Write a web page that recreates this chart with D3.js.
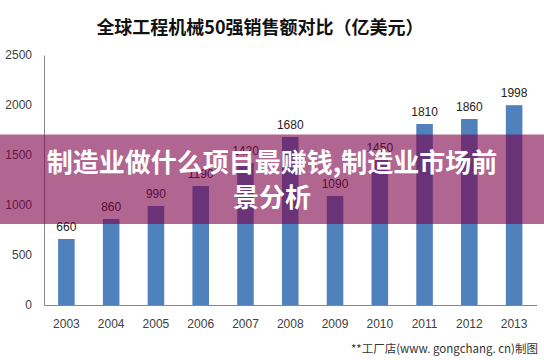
<!DOCTYPE html>
<html>
<head>
<meta charset="utf-8">
<script src="https://cdn.jsdelivr.net/npm/d3@7"></script>
<style>
  html, body { margin: 0; padding: 0; background: #fff; }
  svg { display: block; }
</style>
</head>
<body>
<script>
const years = ["2003","2004","2005","2006","2007","2008","2009","2010","2011","2012","2013"];
const sales = [660, 860, 990, 1190, 1420, 1680, 1090, 1450, 1810, 1860, 1998];
const yTicks = [0, 500, 1000, 1500, 2000, 2500];
const chartTitle = "全球工程机械50强销售额对比（亿美元）";
const bannerLines = ["制造业做什么项目最赚钱,制造业市场前", "景分析"];
const footer = "**工厂店(www. gongchang. cn)制图";

const W = 544, H = 360;
const svg = d3.select("body").append("svg").attr("width", W).attr("height", H);

const x = d3.scaleBand().domain(years).range([44, 536.5]).paddingInner(0.63).paddingOuter(0.315);
const y = d3.scaleLinear().domain([0, 2500]).range([305, 55]);

const cjk = "'Noto Sans CJK SC', 'Noto Sans', sans-serif";
const num = "'Liberation Sans', Arial, sans-serif";

// title
svg.append("text").attr("x", 260).attr("y", 34).attr("text-anchor", "middle")
  .style("font-family", cjk).style("font-size", "18px").style("font-weight", "bold")
  .attr("fill", "#111").text(chartTitle);

// y axis
const yAxis = d3.axisLeft(y).tickValues(yTicks).tickFormat(d3.format("d")).tickSize(0).tickPadding(12);
const gy = svg.append("g").attr("transform", "translate(44,0)").call(yAxis);
gy.select(".domain").attr("stroke", "#888");
gy.selectAll("text").style("font-family", num).style("font-size", "12px").attr("fill", "#404040");

// x axis
const xAxis = d3.axisBottom(x).tickSize(0).tickPadding(14);
const gx = svg.append("g").attr("transform", "translate(0,305)").call(xAxis);
gx.select(".domain").attr("stroke", "#888");
gx.selectAll("text").style("font-family", num).style("font-size", "12px").attr("fill", "#404040");

// bars
svg.append("g").selectAll("rect").data(sales).join("rect")
  .attr("x", (d, i) => x(years[i]))
  .attr("width", x.bandwidth())
  .attr("y", d => y(d))
  .attr("height", d => y(0) - y(d))
  .attr("fill", "#4F81BD");

// value labels
svg.append("g").selectAll("text").data(sales).join("text")
  .attr("x", (d, i) => x(years[i]) + x.bandwidth() / 2)
  .attr("y", d => y(d) - 8)
  .attr("text-anchor", "middle")
  .style("font-family", num).style("font-size", "12px")
  .attr("fill", "#222").text(d => d);

// footer
svg.append("text").attr("x", 538).attr("y", 353).attr("text-anchor", "end")
  .style("font-family", cjk).style("font-size", "11.5px")
  .attr("fill", "#333").text(footer);

// banner overlay
svg.append("rect").attr("x", 0).attr("y", 134.5).attr("width", W).attr("height", 89.5)
  .attr("fill", "rgb(125,0,71)").attr("fill-opacity", 0.6);

svg.append("g").selectAll("text").data(bannerLines).join("text")
  .attr("x", W / 2)
  .attr("y", (d, i) => 172 + i * 35)
  .attr("text-anchor", "middle")
  .style("font-family", cjk).style("font-size", "26px").style("font-weight", "bold")
  .attr("fill", "#fff").text(d => d);
</script>
</body>
</html>
